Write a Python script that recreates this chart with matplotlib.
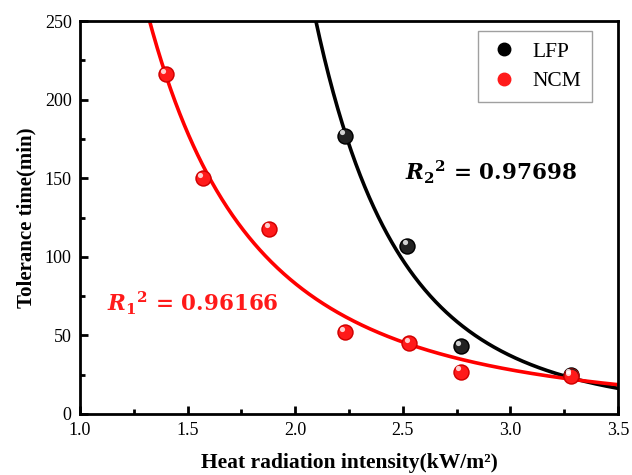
import numpy as np
import matplotlib
matplotlib.use("Agg")
import matplotlib.pyplot as plt
from matplotlib.lines import Line2D

plt.rcParams['font.family'] = ['Liberation Serif', 'DejaVu Serif']
plt.rcParams['mathtext.fontset'] = 'dejavuserif'

# Data
lfp_x = [2.23, 2.52, 2.77, 3.28]
lfp_y = [177, 107, 43, 25]
ncm_x = [1.40, 1.57, 1.88, 2.23, 2.53, 2.77, 3.28]
ncm_y = [216, 150, 118, 52, 45, 27, 24]

x_ticks = [1.0, 1.5, 2.0, 2.5, 3.0, 3.5]
y_ticks = [0, 50, 100, 150, 200, 250]


def power_fit(x, y):
    x = np.asarray(x, float)
    y = np.asarray(y, float)
    best = None
    for b in np.linspace(-10, -0.5, 4001):
        f = x ** b
        a = np.dot(f, y) / np.dot(f, f)
        err = np.sum((a * f - y) ** 2)
        if best is None or err < best[0]:
            best = (err, a, b)
    return best[1], best[2]


fig = plt.figure(figsize=(6.32, 4.75), dpi=100)
ax = fig.add_axes([80 / 632, 61 / 475, 538 / 632, 393 / 475])

xs = np.linspace(1.0, 3.5, 600)
a1, b1 = power_fit(ncm_x, ncm_y)
a2, b2 = power_fit(lfp_x, lfp_y)
ax.plot(xs, a2 * xs ** b2, color='black', lw=2.6, zorder=2)
ax.plot(xs, a1 * xs ** b1, color='#ff0000', lw=2.6, zorder=2)


def spheres(x, y, base, dark):
    ax.scatter(x, y, s=140, color=dark, zorder=3, linewidths=0)
    ax.scatter(x, y, s=95, color=base, zorder=4, linewidths=0)
    ax.scatter(np.asarray(x) - 0.012, np.asarray(y) + 2.2, s=14, color='white',
               alpha=0.8, zorder=5, linewidths=0)


spheres(lfp_x, lfp_y, '#222222', 'black')
spheres(ncm_x, ncm_y, '#ff1a1a', '#d00000')

ax.set_xlim(1.0, 3.5)
ax.set_ylim(0, 250)
ax.set_xticks(x_ticks)
ax.set_xticklabels([f"{v:.1f}" for v in x_ticks])
ax.set_yticks(y_ticks)
ax.set_xticks(np.arange(1.25, 3.5, 0.5), minor=True)
ax.set_yticks(np.arange(25, 250, 50), minor=True)
ax.tick_params(axis='both', which='major', direction='in', length=6, width=2,
               labelsize=13, pad=6)
ax.tick_params(axis='both', which='minor', direction='in', length=3.5, width=2)
for s in ax.spines.values():
    s.set_linewidth(2)

ax.set_xlabel("Heat radiation intensity(kW/m²)", fontsize=15.5,
              fontweight='bold', labelpad=10)
ax.set_ylabel("Tolerance time(min)", fontsize=15, fontweight='bold', labelpad=6)

ax.text(2.51, 154, r"$\mathbfit{R}_{\mathbf{2}}{}^{\mathbf{2}}\mathbf{\,=\,0.97698}$",
        fontsize=15.5, color='black', va='center', ha='left')
ax.text(1.125, 70.6, r"$\mathbfit{R}_{\mathbf{1}}{}^{\mathbf{2}}\mathbf{\,=\,0.96166}$",
        fontsize=15.5, color='#ff1a1a', va='center', ha='left')

handles = [
    Line2D([], [], marker='o', ls='none', color='black', markersize=9, label='LFP'),
    Line2D([], [], marker='o', ls='none', color='#ff1a1a', markersize=9, label='NCM'),
]
leg = ax.legend(handles=handles, loc='upper right', bbox_to_anchor=(0.951, 0.975),
                borderaxespad=0, fontsize=15.5, frameon=True, fancybox=False,
                edgecolor='#888888', handletextpad=0.6, borderpad=0.5,
                labelspacing=0.45, handlelength=1.4)
leg.get_frame().set_linewidth(1.0)

fig.savefig("out.png", dpi=100)
